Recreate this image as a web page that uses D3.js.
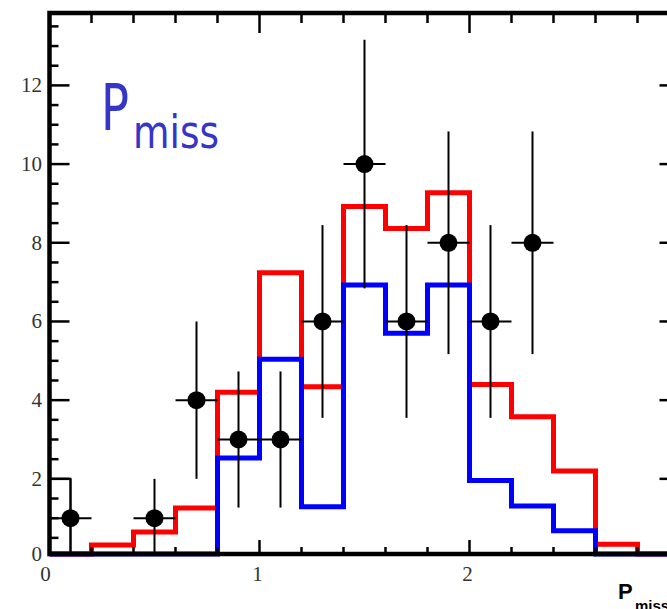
<!DOCTYPE html>
<html>
<head>
<meta charset="utf-8">
<script src="https://cdn.jsdelivr.net/npm/d3@7"></script>
<style>
  html, body { margin: 0; padding: 0; background: #fff; }
  svg { display: block; }
</style>
</head>
<body>
<svg id="chart" width="667" height="609"></svg>
<script>
// ---------------- data ----------------
const binEdges = [0, 0.2, 0.4, 0.6, 0.8, 1.0, 1.2, 1.4, 1.6, 1.8, 2.0, 2.2, 2.4, 2.6, 2.8, 3.0];
const redValues  = [0, 0.32, 0.65, 1.26, 4.2, 7.24, 4.34, 8.92, 8.36, 9.27, 4.4, 3.58, 2.2, 0.34, 0];
const blueValues = [0, 0, 0, 0, 2.53, 5.04, 1.29, 6.93, 5.7, 6.93, 1.96, 1.31, 0.68, 0, 0];
const blackEdges = [0, 0.1];
const blackValues = [2];

const pointX   = [0.1, 0.5, 0.7, 0.9, 1.1, 1.3, 1.5, 1.7, 1.9, 2.1, 2.3];
const pointY   = [1, 1, 4, 3, 3, 6, 10, 6, 8, 6, 8];
const pointErr = [1, 1, 2, 1.73, 1.73, 2.45, 3.16, 2.45, 2.83, 2.45, 2.83];
const pointXErr = 0.1;

const xRange = [0, 3];
const yRange = [0.09, 13.84];
const xMajorTicks = [0, 1, 2, 3];
const xTickLabels = ["0", "1", "2"];   // "3" lies outside the visible picture
const yMajorTicks = [0, 2, 4, 6, 8, 10, 12];
const yTickLabels = ["0", "2", "4", "6", "8", "10", "12"];

// ---------------- layout ----------------
const svg = d3.select("#chart");
const L = 49.5, R = 679.5, T = 13, B = 554;

const x = d3.scaleLinear().domain(xRange).range([L, R]);
const y = d3.scaleLinear().domain(yRange).range([B, T]).clamp(true);

// histograms
function histPoints(edges, vals) {
  const pts = [[edges[0], 0]];
  vals.forEach((v, i) => { pts.push([edges[i], v]); pts.push([edges[i + 1], v]); });
  pts.push([edges[edges.length - 1], 0]);
  return pts;
}
const line = d3.line().x(d => x(d[0])).y(d => y(d[1]));

svg.append("path").attr("d", line(histPoints(blackEdges, blackValues)))
  .attr("fill", "none").attr("stroke", "#000").attr("stroke-width", 2);

svg.append("path").attr("d", line(histPoints(binEdges, redValues)))
  .attr("fill", "none").attr("stroke", "#ff0000").attr("stroke-width", 5)
  .attr("stroke-linejoin", "miter");
svg.append("path").attr("d", line(histPoints(binEdges, blueValues)))
  .attr("fill", "none").attr("stroke", "#0000ff").attr("stroke-width", 5)
  .attr("stroke-linejoin", "miter");

// frame
const frame = svg.append("g");
frame.append("rect").attr("x", L).attr("y", T).attr("width", R - L).attr("height", B - T)
  .attr("fill", "none").attr("stroke", "#000").attr("stroke-width", 4.5);

// ticks
const tickG = svg.append("g").attr("stroke", "#000").attr("stroke-width", 2.5);
const yMinor = d3.range(0.5, 13.9, 0.5).filter(v => !yMajorTicks.includes(v));
yMajorTicks.forEach(v => {
  tickG.append("line").attr("x1", L).attr("x2", L + 20).attr("y1", y(v)).attr("y2", y(v));
  tickG.append("line").attr("x1", R).attr("x2", R - 20).attr("y1", y(v)).attr("y2", y(v));
});
yMinor.forEach(v => {
  tickG.append("line").attr("x1", L).attr("x2", L + 9).attr("y1", y(v)).attr("y2", y(v));
  tickG.append("line").attr("x1", R).attr("x2", R - 9).attr("y1", y(v)).attr("y2", y(v));
});
const xMinor = d3.range(1, 15).map(i => i * 0.2).filter(v => Math.abs(v - Math.round(v)) > 1e-6);
xMajorTicks.forEach(v => {
  tickG.append("line").attr("x1", x(v)).attr("x2", x(v)).attr("y1", B).attr("y2", B - 14);
  tickG.append("line").attr("x1", x(v)).attr("x2", x(v)).attr("y1", T).attr("y2", T + 20);
});
xMinor.forEach(v => {
  tickG.append("line").attr("x1", x(v)).attr("x2", x(v)).attr("y1", B).attr("y2", B - 7);
  tickG.append("line").attr("x1", x(v)).attr("x2", x(v)).attr("y1", T).attr("y2", T + 10);
});

// tick labels
const labFont = "Liberation Serif, Times New Roman, serif";
yMajorTicks.forEach((v, i) => {
  svg.append("text").attr("x", 42).attr("y", y(v) + 7)
    .attr("text-anchor", "end").attr("font-family", labFont).attr("font-size", 21)
    .attr("fill", "#333").text(yTickLabels[i]);
});
xTickLabels.forEach((lab, i) => {
  const v = xMajorTicks[i];
  svg.append("text").attr("x", x(v) - (i === 0 ? 4 : 2)).attr("y", 581)
    .attr("text-anchor", "middle").attr("font-family", labFont).attr("font-size", 21)
    .attr("fill", "#333").text(lab);
});

// data points
const pg = svg.append("g");
pointX.forEach((px, i) => {
  pg.append("line").attr("x1", x(px)).attr("x2", x(px))
    .attr("y1", y(pointY[i] - pointErr[i])).attr("y2", y(pointY[i] + pointErr[i]))
    .attr("stroke", "#000").attr("stroke-width", 2);
  pg.append("line").attr("x1", x(px - pointXErr)).attr("x2", x(px + pointXErr))
    .attr("y1", y(pointY[i])).attr("y2", y(pointY[i]))
    .attr("stroke", "#000").attr("stroke-width", 2);
  pg.append("circle").attr("cx", x(px)).attr("cy", y(pointY[i])).attr("r", 9).attr("fill", "#000");
});

// annotation "Pmiss"
const ann = svg.append("g").attr("fill", "#3535c8").attr("font-family", "DejaVu Sans, sans-serif");
ann.append("text").attr("x", 101).attr("y", 130).attr("font-size", 64)
  .attr("textLength", 28).attr("lengthAdjust", "spacingAndGlyphs").text("P");
ann.append("text").attr("x", 133).attr("y", 148).attr("font-size", 47)
  .attr("textLength", 86).attr("lengthAdjust", "spacingAndGlyphs").text("miss");

// axis title
const at = svg.append("g").attr("fill", "#000").attr("font-family", "Liberation Sans, Arial, sans-serif")
  .attr("font-weight", "bold");
at.append("text").attr("x", 618).attr("y", 599).attr("font-size", 22).text("P");
at.append("text").attr("x", 635).attr("y", 611).attr("font-size", 15).text("miss");
</script>
</body>
</html>
